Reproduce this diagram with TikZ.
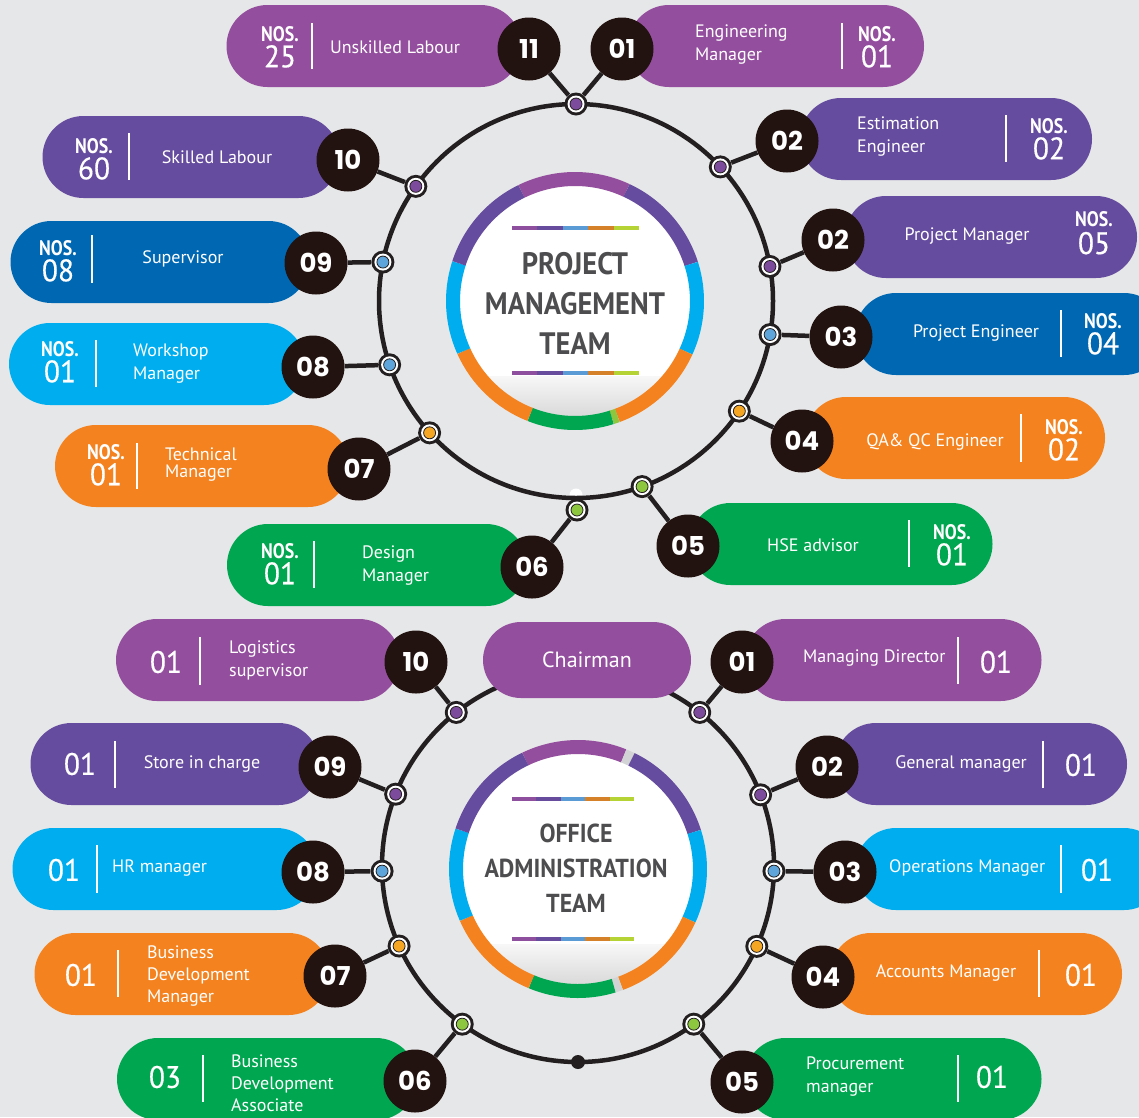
\documentclass[tikz,border=0pt]{standalone}
\usepackage{fontspec}
\setmainfont{PT Sans}
\newfontfamily\numfont{Poppins}
\newfontfamily\dinfont{PT Sans}[FakeStretch=0.95, FakeBold=0.4]
\newfontfamily\nosfont{PT Sans}[FakeStretch=0.85]
\newfontfamily\titlefont{PT Sans}[FakeStretch=0.92]
\newcommand\bigfig[1]{{\mdseries\dinfont\fontsize{31}{31}\selectfont #1}}
\usepackage{xcolor}
\usetikzlibrary{calc}
\usetikzlibrary{shapes.misc}

\definecolor{bgGray}{HTML}{E6E7E8}
\definecolor{pmPlum}{HTML}{944E9E}
\definecolor{pmViolet}{HTML}{664C9E}
\definecolor{pmNavy}{HTML}{0068B3}
\definecolor{pmSky}{HTML}{00AEEF}
\definecolor{pmOrange}{HTML}{F4821F}
\definecolor{pmGreen}{HTML}{00A650}
\definecolor{discBrown}{HTML}{231310}
\definecolor{ringBlack}{HTML}{231F20}
\definecolor{dotPurple}{HTML}{7D4B9B}
\definecolor{dotBlue}{HTML}{5DA5DA}
\definecolor{dotGold}{HTML}{F5A623}
\definecolor{dotLime}{HTML}{8DC63F}
\definecolor{gapGray}{HTML}{D1D3D4}
\definecolor{titleGray}{HTML}{4D4D4F}
\definecolor{barPlum}{HTML}{8E4F9E}
\definecolor{barViolet}{HTML}{674C9E}
\definecolor{barBlue}{HTML}{5B9BD5}
\definecolor{barOrange}{HTML}{D4812A}
\definecolor{barLime}{HTML}{B5D334}

\begin{document}
\begin{tikzpicture}[x=1pt, y=-1pt,
  pill/.style={rounded rectangle, fill=#1, minimum height=82pt, inner sep=0pt},
  numDisc/.style={circle, fill=discBrown, minimum size=63pt, inner sep=0pt, text=white,
    font=\numfont\bfseries\fontsize{26}{26}\selectfont},
  ringDot/.style={circle, fill=ringBlack, minimum size=23pt, inner sep=0pt, path picture={
    \fill[white] (path picture bounding box.center) circle (8.5pt);
    \filldraw[fill=#1, draw=ringBlack, line width=0.8pt] (path picture bounding box.center) circle (6pt);}},
  link/.style={draw=ringBlack, line width=4.5pt},
  wheel/.style={draw=ringBlack, line width=4.5pt},
  divider/.style={draw=white, line width=2.4pt},
  nosTag/.style={text=white, inner sep=0pt, align=center, font=\nosfont\bfseries\fontsize{21}{21}\selectfont},
  bigNum/.style={text=white, inner sep=0pt, font=\dinfont\fontsize{31}{31}\selectfont},
  jobTxt/.style={text=white, inner sep=0pt, align=left, font=\fontsize{18}{23}\selectfont},
  titleTxt/.style={text=titleGray, inner sep=0pt, align=center},
]
  % Background
  \fill[bgGray] (0,0) rectangle (1139,1117);
  \useasboundingbox (0,0) rectangle (1139,1117);

  % ---------------- Project management team ----------------
  \coordinate (hubP) at (576,301);
  \fill[white] (576,495) circle (6.5pt);
  \draw[wheel] (hubP) circle (197pt);

  % centre disc
  \coordinate (discP) at (575,301);
  \fill[white] (discP) circle (116pt);
  \begin{scope}
    \clip (discP) circle (116pt);
    \shade[top color=black!3, bottom color=black!15] ($(discP)+(-116,75)$) rectangle ($(discP)+(116,116)$);
  \end{scope}
  \foreach \a/\b/\c in {-116/-65/pmPlum, -65/-17.7/pmViolet, -17.7/24.5/pmSky, 24.5/69.7/pmOrange,
      69.7/72.5/dotLime, 72.5/111.6/pmGreen, 111.6/155.8/pmOrange, 155.8/198/pmSky, 198/244/pmViolet}
    \draw[line width=14pt, \c] ($(discP)+(\a:122)$) arc[start angle=\a, end angle=\b, radius=122];
  \foreach \c [count=\i] in {barPlum, barViolet, barBlue, barOrange, barLime} {
    \draw[line width=4pt, \c] ({486.6+25.4*\i},228) -- ({512+25.4*\i},228);
    \draw[line width=4pt, \c] ({486.6+25.4*\i},373) -- ({512+25.4*\i},373);
  }
  \node[titleTxt, font=\titlefont\bfseries\fontsize{31}{40}\selectfont] (titleP) at (575,303)
    {PROJECT\\MANAGEMENT\\TEAM};

  % 11 Unskilled Labour
  \node[pill=pmPlum, minimum width=295pt] (jobP11) at (374,46) {};
  \node[nosTag] (nosP11) at (280,47) {NOS.\\[2.5pt]\bigfig{25}};
  \draw[divider] (312,23) -- (312,69);
  \node[jobTxt] (txtP11) at (395,47) {Unskilled Labour};

  % 01 Engineering Manager
  \node[pill=pmPlum, minimum width=296pt] (jobP01) at (776,46) {};
  \node[jobTxt, anchor=west] (txtP01) at (695,45) {Engineering\\Manager};
  \draw[divider] (842,23) -- (842,69);
  \node[nosTag] (nosP01) at (877,47) {NOS.\\[2.5pt]\bigfig{01}};

  % 02 Estimation Engineer
  \node[pill=pmViolet, minimum width=292pt] (jobP02a) at (946,139) {};
  \node[jobTxt, anchor=west] (txtP02a) at (857,137) {Estimation\\Engineer};
  \draw[divider] (1006,115) -- (1006,162);
  \node[nosTag] (nosP02a) at (1049,139) {NOS.\\[2.5pt]\bigfig{02}};

  % 02 Project Manager
  \node[pill=pmViolet, minimum width=292pt] (jobP02b) at (991,237) {};
  \node[jobTxt] (txtP02b) at (967,236) {Project Manager};
  \node[nosTag] (nosP02b) at (1094,233) {NOS.\\[4pt]\bigfig{05}};

  % 03 Project Engineer
  \node[pill=pmNavy, minimum width=310pt] (jobP03) at (1010,334) {};
  \node[jobTxt] (txtP03) at (976,333) {Project Engineer};
  \draw[divider] (1061,310) -- (1061,357);
  \node[nosTag] (nosP03) at (1103,334) {NOS.\\[2.5pt]\bigfig{04}};

  % 04 QA & QC Engineer
  \node[pill=pmOrange, minimum width=300pt] (jobP04) at (955,438) {};
  \node[jobTxt] (txtP04) at (935,442) {QA\& QC Engineer};
  \draw[divider] (1021,414) -- (1021,462);
  \node[nosTag] (nosP04) at (1064,440) {NOS.\\[2.5pt]\bigfig{02}};

  % 05 HSE advisor
  \node[pill=pmGreen, minimum width=303pt] (jobP05) at (841,544) {};
  \node[jobTxt] (txtP05) at (813,545) {HSE advisor};
  \draw[divider] (909,520) -- (909,567);
  \node[nosTag] (nosP05) at (952,545) {NOS.\\[2.5pt]\bigfig{01}};

  % 06 Design Manager
  \node[pill=pmGreen, minimum width=300pt] (jobP06) at (377,565) {};
  \node[nosTag] (nosP06) at (280,564) {NOS.\\[2.5pt]\bigfig{01}};
  \draw[divider] (314,541) -- (314,588);
  \node[jobTxt, anchor=west] (txtP06) at (362,566) {Design\\Manager};

  % 07 Technical Manager
  \node[pill=pmOrange, minimum width=294pt] (jobP07) at (202,466) {};
  \node[nosTag] (nosP07) at (106,465) {NOS.\\[2.5pt]\bigfig{01}};
  \draw[divider] (137,443) -- (137,489);
  \node[jobTxt, anchor=west, font=\fontsize{18}{17}\selectfont] (txtP07) at (165,465) {Technical\\Manager};

  % 08 Workshop Manager
  \node[pill=pmSky, minimum width=296pt] (jobP08) at (157,364) {};
  \node[nosTag] (nosP08) at (60,362) {NOS.\\[2.5pt]\bigfig{01}};
  \draw[divider] (96,340) -- (96,387);
  \node[jobTxt, anchor=west] (txtP08) at (133,364) {Workshop\\Manager};

  % 09 Supervisor
  \node[pill=pmNavy, minimum width=299pt] (jobP09) at (160,262) {};
  \node[nosTag] (nosP09) at (58,261) {NOS.\\[2.5pt]\bigfig{08}};
  \draw[divider] (92,235) -- (92,283);
  \node[jobTxt] (txtP09) at (183,259) {Supervisor};

  % 10 Skilled Labour
  \node[pill=pmViolet, minimum width=297pt] (jobP10) at (191,157) {};
  \node[nosTag] (nosP10) at (94,159) {NOS.\\[2.5pt]\bigfig{60}};
  \draw[divider] (129,133) -- (129,180);
  \node[jobTxt] (txtP10) at (217,157) {Skilled Labour};

  % number discs and ring dots
  \node[numDisc] (numP11) at (529,49) {11};
  \node[numDisc] (numP01) at (622,49) {01};
  \node[numDisc] (numP02a) at (787,141) {02};
  \node[numDisc] (numP02b) at (833,240) {02};
  \node[numDisc] (numP03) at (841,337) {03};
  \node[numDisc] (numP04) at (802,441) {04};
  \node[numDisc] (numP05) at (688,546) {05};
  \node[numDisc] (numP06) at (532,567) {06};
  \node[numDisc] (numP07) at (359,469) {07};
  \node[numDisc] (numP08) at (313,367) {08};
  \node[numDisc] (numP09) at (316,263) {09};
  \node[numDisc] (numP10) at (348,160) {10};

  \node[ringDot=dotPurple] (dotPtop) at ($(hubP)+(-90:197)$) {};
  \node[ringDot=dotPurple] (dotP02a) at ($(hubP)+(-42.9:197)$) {};
  \node[ringDot=dotPurple] (dotP02b) at ($(hubP)+(-10.1:197)$) {};
  \node[ringDot=dotBlue] (dotP03) at ($(hubP)+(9.8:197)$) {};
  \node[ringDot=dotGold] (dotP04) at ($(hubP)+(34:197)$) {};
  \node[ringDot=dotLime] (dotP05) at ($(hubP)+(70.4:197)$) {};
  \node[ringDot=dotLime] (dotP06) at (577,510) {};
  \node[ringDot=dotGold] (dotP07) at ($(hubP)+(138:197)$) {};
  \node[ringDot=dotBlue] (dotP08) at ($(hubP)+(161.1:197)$) {};
  \node[ringDot=dotBlue] (dotP09) at ($(hubP)+(191.4:197)$) {};
  \node[ringDot=dotPurple] (dotP10) at ($(hubP)+(215.6:197)$) {};

  \draw[link] (dotPtop) -- (numP11);
  \draw[link] (dotPtop) -- (numP01);
  \draw[link] (dotP02a) -- (numP02a);
  \draw[link] (dotP02b) -- (numP02b);
  \draw[link] (dotP03) -- (numP03);
  \draw[link] (dotP04) -- (numP04);
  \draw[link] (dotP05) -- (numP05);
  \draw[link] (dotP06) -- (numP06);
  \draw[link] (dotP07) -- (numP07);
  \draw[link] (dotP08) -- (numP08);
  \draw[link] (dotP09) -- (numP09);
  \draw[link] (dotP10) -- (numP10);

  % ---------------- Office administration team ----------------
  \coordinate (hubO) at (578,866);
  \draw[wheel] (hubO) circle (196pt);
  \fill[ringBlack] ($(hubO)+(90:196)$) circle (7pt);

  % centre disc
  \coordinate (discO) at (578,869);
  \fill[white] (discO) circle (116pt);
  \begin{scope}
    \clip (discO) circle (116pt);
    \shade[top color=black!3, bottom color=black!15] ($(discO)+(-116,75)$) rectangle ($(discO)+(116,116)$);
  \end{scope}
  \foreach \a/\b/\c in {-115.6/-68/pmPlum, -68/-64/gapGray, -64/-17.7/pmViolet, -17.7/24.5/pmSky,
      24.5/69.6/pmOrange, 69.6/73/gapGray, 73/112.5/pmGreen, 112.5/156.3/pmOrange,
      156.3/198.3/pmSky, 198.3/244.4/pmViolet}
    \draw[line width=14pt, \c] ($(discO)+(\a:122)$) arc[start angle=\a, end angle=\b, radius=122];
  \foreach \c [count=\i] in {barPlum, barViolet, barBlue, barOrange, barLime} {
    \draw[line width=4pt, \c] ({487.6+24.4*\i},799) -- ({512+24.4*\i},799);
    \draw[line width=4pt, \c] ({487.6+24.4*\i},939) -- ({512+24.4*\i},939);
  }
  \node[titleTxt, font=\titlefont\bfseries\fontsize{26}{35}\selectfont] (titleO) at (576,868)
    {OFFICE\\ADMINISTRATION\\TEAM};

  % Chairman
  \node[pill=pmPlum, minimum width=208pt, minimum height=76pt] (jobChair) at (587,660) {};
  \node[jobTxt, font=\fontsize{22}{22}\selectfont] (txtChair) at (587,660) {Chairman};

  % 01 Managing Director
  \node[pill=pmPlum, minimum width=297pt] (jobO01) at (893,660) {};
  \node[jobTxt, anchor=west] (txtO01) at (803,658) {Managing Director};
  \draw[divider] (958,637) -- (958,684);
  \node[bigNum] (cntO01) at (996,662) {01};

  % 02 General manager
  \node[pill=pmViolet, minimum width=292pt] (jobO02) at (981,764) {};
  \node[jobTxt] (txtO02) at (961,764) {General manager};
  \draw[divider] (1043,741) -- (1043,788);
  \node[bigNum] (cntO02) at (1081,765) {01};

  % 03 Operations Manager
  \node[pill=pmSky, minimum width=310pt] (jobO03) at (1010,869) {};
  \node[jobTxt, anchor=west] (txtO03) at (889,868) {Operations Manager};
  \draw[divider] (1061,845) -- (1061,893);
  \node[bigNum] (cntO03) at (1097,870) {01};

  % 04 Accounts Manager
  \node[pill=pmOrange, minimum width=292pt] (jobO04) at (976,974) {};
  \node[jobTxt] (txtO04) at (946,973) {Accounts Manager};
  \draw[divider] (1039,950) -- (1039,997);
  \node[bigNum] (cntO04) at (1081,975) {01};

  % 05 Procurement manager
  \node[pill=pmGreen, minimum width=297pt] (jobO05) at (893,1079) {};
  \node[jobTxt, anchor=west] (txtO05) at (806,1077) {Procurement\\manager};
  \draw[divider] (958,1055) -- (958,1102);
  \node[bigNum] (cntO05) at (992,1077) {01};

  % 06 Business Development Associate
  \node[pill=pmGreen, minimum width=300pt] (jobO06) at (267,1079) {};
  \node[bigNum] (cntO06) at (165,1077) {03};
  \draw[divider] (203,1055) -- (203,1102);
  \node[jobTxt, anchor=west, font=\fontsize{18}{22}\selectfont] (txtO06) at (231,1083) {Business\\Development\\Associate};

  % 07 Business Development Manager
  \node[pill=pmOrange, minimum width=295pt] (jobO07) at (182,974) {};
  \node[bigNum] (cntO07) at (81,975) {01};
  \draw[divider] (118,950) -- (118,997);
  \node[jobTxt, anchor=west, font=\fontsize{18}{22}\selectfont] (txtO07) at (147,976) {Business\\Development\\Manager};

  % 08 HR manager
  \node[pill=pmSky, minimum width=305pt] (jobO08) at (165,869) {};
  \node[bigNum] (cntO08) at (64,870) {01};
  \draw[divider] (97,845) -- (97,893);
  \node[jobTxt, anchor=west] (txtO08) at (112,868) {HR manager};

  % 09 Store in charge
  \node[pill=pmViolet, minimum width=289pt] (jobO09) at (175,764) {};
  \node[bigNum] (cntO09) at (80,764) {01};
  \draw[divider] (115,741) -- (115,788);
  \node[jobTxt] (txtO09) at (202,764) {Store in charge};

  % 10 Logistics supervisor
  \node[pill=pmPlum, minimum width=284pt] (jobO10) at (258,660) {};
  \node[bigNum] (cntO10) at (166,662) {01};
  \draw[divider] (200,637) -- (200,685);
  \node[jobTxt, anchor=west] (txtO10) at (229,660) {Logistics\\supervisor};

  % number discs and ring dots
  \node[numDisc] (numO01) at (742,662) {01};
  \node[numDisc] (numO02) at (827,767) {02};
  \node[numDisc] (numO03) at (845,872) {03};
  \node[numDisc] (numO04) at (823,977) {04};
  \node[numDisc] (numO05) at (742,1082) {05};
  \node[numDisc] (numO06) at (415,1081) {06};
  \node[numDisc] (numO07) at (335,976) {07};
  \node[numDisc] (numO08) at (313,872) {08};
  \node[numDisc] (numO09) at (330,767) {09};
  \node[numDisc] (numO10) at (416,662) {10};

  \node[ringDot=dotPurple] (dotO01) at ($(hubO)+(-51.6:196)$) {};
  \node[ringDot=dotPurple] (dotO02) at ($(hubO)+(-21.3:196)$) {};
  \node[ringDot=dotBlue] (dotO03) at ($(hubO)+(1.5:196)$) {};
  \node[ringDot=dotGold] (dotO04) at ($(hubO)+(24.2:196)$) {};
  \node[ringDot=dotLime] (dotO05) at ($(hubO)+(53.8:196)$) {};
  \node[ringDot=dotLime] (dotO06) at ($(hubO)+(126.2:196)$) {};
  \node[ringDot=dotGold] (dotO07) at ($(hubO)+(155.9:196)$) {};
  \node[ringDot=dotBlue] (dotO08) at ($(hubO)+(178.5:196)$) {};
  \node[ringDot=dotPurple] (dotO09) at ($(hubO)+(-158.5:196)$) {};
  \node[ringDot=dotPurple] (dotO10) at ($(hubO)+(-128.4:196)$) {};

  \draw[link] (dotO01) -- (numO01);
  \draw[link] (dotO02) -- (numO02);
  \draw[link] (dotO03) -- (numO03);
  \draw[link] (dotO04) -- (numO04);
  \draw[link] (dotO05) -- (numO05);
  \draw[link] (dotO06) -- (numO06);
  \draw[link] (dotO07) -- (numO07);
  \draw[link] (dotO08) -- (numO08);
  \draw[link] (dotO09) -- (numO09);
  \draw[link] (dotO10) -- (numO10);
\end{tikzpicture}
\end{document}
